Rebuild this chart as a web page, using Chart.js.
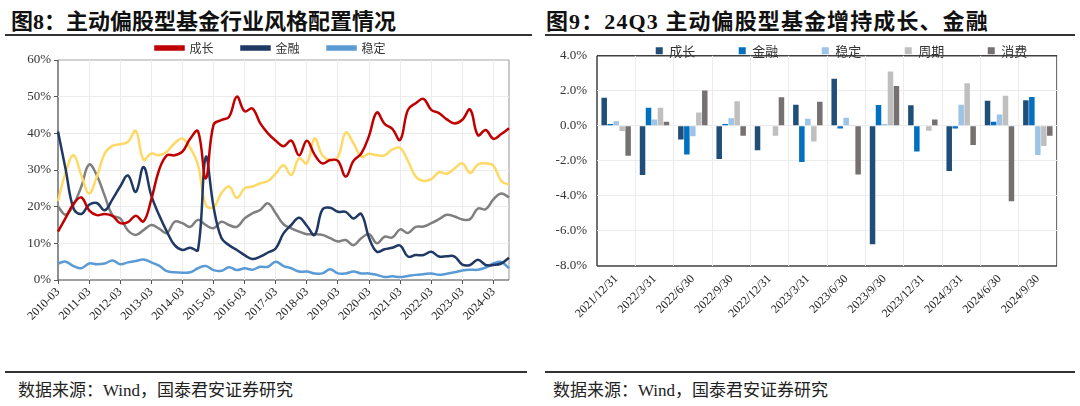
<!DOCTYPE html>
<html lang="zh-CN">
<head>
<meta charset="utf-8">
<title>主动偏股型基金行业风格配置</title>
<script src="https://cdn.jsdelivr.net/npm/chart.js@4.4.1/dist/chart.umd.min.js"></script>
<style>
  html, body { margin: 0; padding: 0; background: #fff; }
  body { width: 1080px; height: 406px; position: relative; overflow: hidden;
         font-family: "Liberation Serif", "Noto Sans CJK SC", serif; color: #111; }
  .title { position: absolute; top: 3px; font-size: 22px; font-weight: bold; white-space: nowrap; }
  .rule { position: absolute; height: 2px; background: #333; }
  .source { position: absolute; top: 376px; font-size: 17px; white-space: nowrap; color: #222; }
  .box { position: absolute; }
</style>
</head>
<body>
<div class="title" style="left:11px">图8：主动偏股型基金行业风格配置情况</div>
<div class="title" style="left:546px; letter-spacing:1.1px">图9：24Q3 主动偏股型基金增持成长、金融</div>
<div class="rule" style="left:5px; width:527px; top:34px"></div>
<div class="rule" style="left:545px; width:530px; top:34px"></div>

<div class="box" style="left:0px; top:38px; width:530px; height:300px"><canvas id="styleChart"></canvas></div>
<div class="box" style="left:540px; top:38px; width:540px; height:300px"><canvas id="changeChart"></canvas></div>

<div class="rule" style="left:5px; width:522px; top:371px"></div>
<div class="rule" style="left:545px; width:530px; top:371px"></div>
<div class="source" style="left:18px">数据来源：Wind，国泰君安证券研究</div>
<div class="source" style="left:553px">数据来源：Wind，国泰君安证券研究</div>

<script>
// 图8：季度末配置占比（%）
const quarterYears = [2010, 2011, 2012, 2013, 2014, 2015, 2016, 2017, 2018, 2019, 2020, 2021, 2022, 2023, 2024];
const quarterMonths = ['03', '06', '09', '12'];
const styleLabels = [];
quarterYears.forEach(y => quarterMonths.forEach(m => {
    if (!(y === 2024 && m === '12')) styleLabels.push(y + '-' + m);
}));

const growthShare = [
    13.2, 17, 20.8, 22.5, 19, 17.7, 18, 17.5, 15.5, 15.8,
    17.5, 16, 22, 30, 34, 34, 35, 38.5, 40.6, 27.7,
    42.3, 43.6, 44.5, 50, 46, 46.8, 42.8, 40, 38, 36.5,
    38, 34, 38, 34.2, 31.8, 32.7, 32.5, 28.2, 32.5, 34.5,
    39.3, 45.7, 42.6, 41.2, 38.2, 46.4, 48.2, 49.4, 46.4, 45.5,
    43.8, 42.7, 43.7, 46.5, 39.5, 40.9, 38.5, 39.8, 41.4
];
const financeShare = [
    40.5, 30, 19.5, 18, 20.5, 21, 19, 22, 25.5, 28.5,
    24, 30.8, 23, 17.7, 13.2, 9.5, 8.2, 8.8, 8.2, 33.5,
    20, 11.5, 9.5, 8.2, 6.8, 5.7, 6.4, 7.5, 8.6, 12.7,
    15, 17, 14.8, 12.3, 19.2, 19.7, 18.6, 18.6, 16.8, 18,
    11.5, 7.7, 8.4, 8.8, 9.4, 6.4, 6.8, 6.8, 7.7, 6.4,
    6.5, 6.4, 4.2, 4.1, 5.5, 4.1, 4.1, 4.5, 6.1
];
const stableShare = [
    4.5, 5, 3.8, 3.2, 4.5, 4.3, 4.5, 5.3, 4.3, 4.8,
    5.2, 5.6, 4.8, 3.9, 2.4, 2.1, 2, 2.1, 3.2, 3.8,
    2.7, 2.5, 3.5, 2.7, 3.2, 2.8, 3.6, 3.6, 5, 3.8,
    3.2, 2.3, 2.3, 1.8, 1.8, 2.9, 1.8, 1.8, 2.3, 1.8,
    1.8, 1.4, 0.8, 1, 0.8, 1.1, 1.4, 1.6, 1.8, 1.4,
    1.7, 2.1, 2.6, 2.8, 2.8, 3.4, 4.5, 4.9, 3.2
];
// 黄线、灰线在原图图例中未标出
const consumeShare = [
    21.5, 29.5, 34, 28.6, 23.6, 28.2, 34.5, 36.6, 37, 37.7,
    40.7, 32.8, 34.5, 34, 35, 37.3, 38.6, 36, 31.4, 20.5,
    19.8, 23.6, 25.5, 22.4, 25, 25.5, 26.4, 27, 29, 31.3,
    28.6, 33.2, 31.8, 38.6, 34, 32.7, 33.6, 40.2, 37.3, 33.6,
    34.4, 34, 34, 35.6, 36, 32.5, 28.2, 27, 27.5, 29.4,
    29, 30.4, 31.8, 29.2, 31.5, 31.8, 31.2, 27, 26
];
const cycleShare = [
    20, 17.8, 20.5, 25.5, 31.5, 28.5, 23, 17.7, 16.8, 13.5,
    12.3, 13.6, 15, 14, 12.8, 15.9, 15.5, 14.5, 16.4, 15,
    14.1, 15.9, 15, 14.5, 16.8, 18.2, 19.1, 20.9, 18.2, 15.2,
    14.1, 13.2, 12.5, 12.5, 12.3, 11.4, 10.5, 10.9, 9.5, 11.4,
    12.5, 10, 11.8, 11.6, 13.8, 12.8, 14.5, 14.6, 15.5, 16.6,
    17.8, 17.3, 16.5, 16.6, 19.5, 19.3, 22, 23.6, 22.5
];

// 图9：各季度配置比例变动（%）
const changeDates = ['2021/12/31', '2022/3/31', '2022/6/30', '2022/9/30', '2022/12/31', '2023/3/31',
                     '2023/6/30', '2023/9/30', '2023/12/31', '2024/3/31', '2024/6/30', '2024/9/30'];
const chgGrowth  = [1.6, -2.8, -0.78, -1.89, -1.39, 1.2, 2.69, -6.76, 1.17, -2.57, 1.43, 1.46];
const chgFinance = [0.1, 1.04, -1.63, 0.1, 0.03, -2.06, -0.15, 1.19, -1.46, -0.15, 0.24, 1.65];
const chgStable  = [0.26, 0.37, -0.59, 0.43, 0.03, 0.41, 0.46, 0.11, 0.04, 1.2, 0.65, -1.67];
const chgCycle   = [-0.3, 1.04, 0.76, 1.41, -0.57, -0.89, 0.02, 3.11, -0.28, 2.44, 1.72, -1.15];
const chgConsume = [-1.7, 0.24, 2.02, -0.56, 1.63, 1.37, -2.78, 2.28, 0.37, -1.09, -4.3, -0.56];

Chart.defaults.font.family = '"Liberation Serif", "Noto Sans CJK SC", serif';
Chart.defaults.color = '#333';
Chart.defaults.animation = false;

const clear = 'rgba(0,0,0,0)';

// frame round the plot area, drawn first so legend and lines sit on top
const framePlugin = {
    id: 'frame',
    beforeDraw(chart, args, opts) {
        const a = chart.chartArea;
        const ctx = chart.ctx;
        ctx.save();
        ctx.lineWidth = opts.width || 1;
        const side = (color, x1, y1, x2, y2) => {
            ctx.strokeStyle = color;
            ctx.beginPath();
            ctx.moveTo(x1, y1);
            ctx.lineTo(x2, y2);
            ctx.stroke();
        };
        side(opts.top, a.left, a.top, a.right, a.top);
        side(opts.right, a.right, a.top, a.right, a.bottom);
        side(opts.bottom, a.left, a.bottom, a.right, a.bottom);
        side(opts.left, a.left, a.top, a.left, a.bottom);
        ctx.restore();
    }
};

// legend takes a fixed height and is moved to where the reference has it
const legendPlacePlugin = {
    id: 'legendPlace',
    afterInit(chart, args, opts) {
        const lg = chart.legend;
        const fit = lg.fit;
        lg.fit = function () {
            fit.call(this);
            this.height = opts.reserve;
        };
    },
    afterLayout(chart, args, opts) {
        const lg = chart.legend;
        const cur = lg.top + opts.pad + opts.itemH / 2;
        const dy = chart.chartArea.top + opts.offsetY - cur;
        lg.top += dy;
        lg.bottom = lg.top + opts.pad * 2 + opts.itemH;   // keep the clip box big enough
        lg.height = lg.bottom - lg.top;
        lg.left += opts.dx;
        lg.right += opts.dx;
    }
};

function lineSet(label, data, color) {
    return {
        label: label,
        data: data,
        borderColor: color,
        backgroundColor: color,
        borderWidth: 2.5,
        pointRadius: 0,
        tension: 0.4
    };
}

// 图8 line chart
const styleCtx = document.getElementById('styleChart').getContext('2d');
const styleChart = new Chart(styleCtx, {
    type: 'line',
    data: {
        labels: styleLabels,
        datasets: [
            lineSet('成长', growthShare, '#C00000'),
            lineSet('金融', financeShare, '#1F3864'),
            lineSet('稳定', stableShare, '#5B9BD5'),
            lineSet('消费', consumeShare, '#FFD966'),
            lineSet('周期', cycleShare, '#7F7F7F')
        ]
    },
    options: {
        responsive: true,
        maintainAspectRatio: false,
        layout: { padding: { left: 0, right: 21, top: 0, bottom: 0 } },
        plugins: {
            tooltip: { enabled: false },
            legend: {
                position: 'top',
                labels: {
                    boxWidth: 28,
                    boxHeight: 3,
                    padding: 28,
                    color: '#333',
                    font: { family: '"Noto Sans CJK SC"', size: 12 },
                    filter: item => item.datasetIndex < 3
                }
            },
            legendPlace: { reserve: 22, pad: 28, itemH: 12, offsetY: -12, dx: 16 },
            frame: { width: 1.2, top: '#a6a6a6', right: '#a6a6a6', bottom: '#444', left: '#444' }
        },
        scales: {
            x: {
                afterBuildTicks: s => { s.ticks = s.ticks.filter(t => t.value % 4 === 0); },
                afterFit: s => { s.height = 58; },
                border: { display: false },
                grid: {
                    color: c => (c.index === 0 ? clear : '#ececec'),
                    tickColor: '#555',
                    tickLength: 4
                },
                ticks: {
                    autoSkip: false,
                    maxRotation: 45,
                    minRotation: 45,
                    padding: 1,
                    color: '#222',
                    font: { size: 12 }
                }
            },
            y: {
                min: 0,
                max: 60,
                afterFit: s => { s.width = 58; },
                border: { display: false },
                grid: {
                    color: c => (c.tick && (c.tick.value === 0 || c.tick.value === 60) ? clear : '#ececec'),
                    tickColor: '#555',
                    tickLength: 4
                },
                ticks: {
                    stepSize: 10,
                    padding: 3,
                    color: '#333',
                    font: { size: 13 },
                    callback: v => v + '%'
                }
            }
        }
    },
    plugins: [framePlugin, legendPlacePlugin]
});

function barSet(label, data, color) {
    return {
        label: label,
        data: data,
        backgroundColor: color,
        borderWidth: 0,
        categoryPercentage: 0.78,
        barPercentage: 0.92
    };
}

// 图9 bar chart
const changeCtx = document.getElementById('changeChart').getContext('2d');
const changeChart = new Chart(changeCtx, {
    type: 'bar',
    data: {
        labels: changeDates,
        datasets: [
            barSet('成长', chgGrowth, '#1F4E79'),
            barSet('金融', chgFinance, '#0070C0'),
            barSet('稳定', chgStable, '#9DC3E6'),
            barSet('周期', chgCycle, '#BFBFBF'),
            barSet('消费', chgConsume, '#767171')
        ]
    },
    options: {
        responsive: true,
        maintainAspectRatio: false,
        layout: { padding: { left: 0, right: 23, top: 0, bottom: 0 } },
        plugins: {
            tooltip: { enabled: false },
            legend: {
                position: 'top',
                labels: {
                    boxWidth: 7,
                    boxHeight: 7,
                    padding: 43.5,
                    color: '#333',
                    font: { family: '"Noto Sans CJK SC"', size: 13 }
                }
            },
            legendPlace: { reserve: 13, pad: 43.5, itemH: 13, offsetY: -5, dx: 43 },
            frame: { width: 1.5, top: '#404040', right: '#404040', bottom: '#404040', left: '#404040' }
        },
        scales: {
            x: {
                afterFit: s => { s.height = 72; },
                border: { display: false },
                grid: {
                    offset: true,
                    drawTicks: false,
                    color: c => (c.index === 0 || c.index >= changeDates.length ? clear : '#ececec')
                },
                ticks: {
                    autoSkip: false,
                    maxRotation: 45,
                    minRotation: 45,
                    padding: 6,
                    color: '#222',
                    font: { size: 12 }
                }
            },
            y: {
                min: -8,
                max: 4,
                afterFit: s => { s.width = 57; },
                border: { display: false },
                grid: {
                    drawTicks: false,
                    color: c => (c.tick && (c.tick.value === 4 || c.tick.value === -8) ? clear : '#ececec')
                },
                ticks: {
                    stepSize: 2,
                    padding: 10,
                    color: '#333',
                    font: { size: 13 },
                    callback: v => v.toFixed(1) + '%'
                }
            }
        }
    },
    plugins: [framePlugin, legendPlacePlugin]
});
</script>
</body>
</html>
